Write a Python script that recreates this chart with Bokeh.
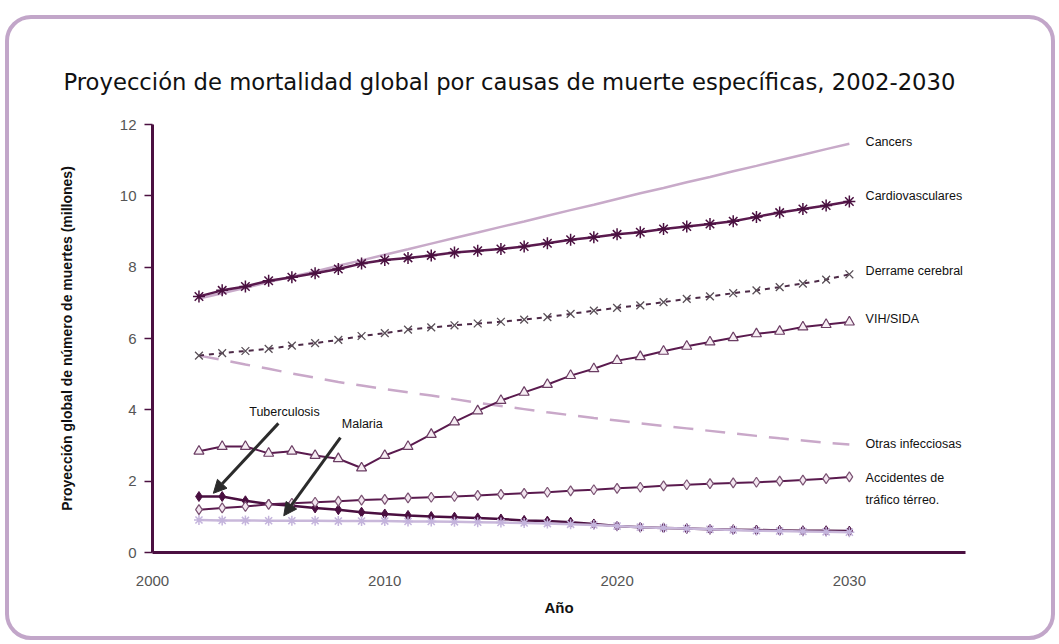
from bokeh.plotting import figure
from bokeh.models import Range1d, Arrow, NormalHead, ColumnDataSource, FixedTicker, Title
from bokeh.core.properties import value
from bokeh.embed import file_html
from bokeh.resources import INLINE

years = list(range(2002, 2031))
cancers = [7.12, 7.27, 7.42, 7.58, 7.73, 7.88, 8.04, 8.19, 8.35, 8.50, 8.66, 8.82, 8.97, 9.13, 9.28,
           9.44, 9.60, 9.75, 9.91, 10.07, 10.22, 10.38, 10.53, 10.69, 10.84, 11.00, 11.15, 11.31, 11.46]
cardio = [7.18, 7.35, 7.46, 7.62, 7.72, 7.83, 7.95, 8.10, 8.20, 8.26, 8.33, 8.41, 8.46, 8.51, 8.58,
          8.67, 8.77, 8.84, 8.92, 8.98, 9.07, 9.14, 9.21, 9.29, 9.41, 9.53, 9.63, 9.73, 9.84]
stroke = [5.52, 5.59, 5.65, 5.71, 5.80, 5.87, 5.96, 6.07, 6.15, 6.25, 6.31, 6.37, 6.42, 6.47, 6.53,
          6.60, 6.69, 6.78, 6.86, 6.93, 7.02, 7.11, 7.18, 7.27, 7.35, 7.44, 7.54, 7.65, 7.80]
hiv = [2.84, 2.97, 2.97, 2.78, 2.84, 2.72, 2.63, 2.37, 2.72, 2.97, 3.31, 3.66, 3.97, 4.26, 4.49,
       4.71, 4.96, 5.15, 5.38, 5.49, 5.64, 5.78, 5.90, 6.02, 6.13, 6.20, 6.32, 6.39, 6.46]
otras = [5.52, 5.40, 5.27, 5.15, 5.02, 4.90, 4.78, 4.68, 4.58, 4.49, 4.40, 4.30, 4.20, 4.11, 4.02,
         3.93, 3.85, 3.77, 3.70, 3.62, 3.55, 3.48, 3.41, 3.34, 3.27, 3.20, 3.14, 3.08, 3.03]
road = [1.20, 1.25, 1.29, 1.35, 1.38, 1.41, 1.44, 1.47, 1.49, 1.53, 1.55, 1.57, 1.60, 1.63, 1.66,
        1.69, 1.73, 1.76, 1.80, 1.83, 1.87, 1.90, 1.93, 1.95, 1.97, 2.00, 2.03, 2.07, 2.12]
tb = [1.57, 1.57, 1.45, 1.36, 1.31, 1.25, 1.20, 1.13, 1.08, 1.04, 1.01, 0.99, 0.97, 0.94, 0.90,
      0.88, 0.85, 0.80, 0.74, 0.71, 0.69, 0.67, 0.65, 0.64, 0.63, 0.62, 0.61, 0.61, 0.60]
malaria = [0.91, 0.90, 0.90, 0.89, 0.89, 0.89, 0.88, 0.88, 0.88, 0.87, 0.87, 0.86, 0.85, 0.84, 0.83,
           0.81, 0.79, 0.77, 0.74, 0.71, 0.69, 0.67, 0.65, 0.63, 0.61, 0.60, 0.59, 0.58, 0.57]

end_labels = ["Cancers", "Cardiovasculares", "Derrame cerebral", "VIH/SIDA",
              "Otras infecciosas", "Accidentes de", "tráfico térreo."]
y_ticks = [0, 2, 4, 6, 8, 10, 12]
x_ticks = [2000, 2010, 2020, 2030]

TITLE = "Proyección de mortalidad global por causas de muerte específicas, 2002-2030"
FONT = "Liberation Sans"
DARK = "#5a1a4e"

p = figure(width=1050, height=625, output_backend="svg", toolbar_location=None,
           x_range=Range1d(2000, 2035), y_range=Range1d(0, 12),
           min_border_left=143, min_border_right=94, min_border_top=105, min_border_bottom=92)
p.styles = {"margin-left": "5px", "margin-top": "15px",
            "border": "4px solid #c2a6c9", "border-radius": "26px"}
p.border_fill_alpha = 0
p.background_fill_alpha = 0
p.outline_line_color = None
p.grid.visible = False

p.add_layout(Title(text=TITLE, text_font="DejaVu Sans", text_font_size="22.7px",
                   text_font_style="normal", text_color="#111111", align="left",
                   vertical_align="top", offset=-89, standoff=56), "above")

xa = p.xaxis[0]
xa.ticker = FixedTicker(ticks=x_ticks)
xa.axis_line_color = "#4b1041"
xa.axis_line_width = 3
xa.major_tick_line_color = None
xa.minor_tick_line_color = None
xa.major_label_text_font = FONT
xa.major_label_text_font_size = "15px"
xa.major_label_text_color = "#555555"
xa.major_label_standoff = 17
xa.axis_label = "Año"
xa.axis_label_text_font = FONT
xa.axis_label_text_font_size = "15px"
xa.axis_label_text_font_style = "bold"
xa.axis_label_text_color = "#111111"
xa.axis_label_standoff = 10

ya = p.yaxis[0]
ya.ticker = FixedTicker(ticks=y_ticks)
ya.axis_line_color = "#4b1041"
ya.axis_line_width = 3
ya.major_tick_line_color = "#4b1041"
ya.major_tick_line_width = 1.5
ya.major_tick_out = 8
ya.major_tick_in = 0
ya.minor_tick_line_color = None
ya.major_label_text_font = FONT
ya.major_label_text_font_size = "15px"
ya.major_label_text_color = "#555555"
ya.major_label_standoff = 8
ya.axis_label = "Proyección global de número de muertes (millones)"
ya.axis_label_text_font = FONT
ya.axis_label_text_font_size = "14px"
ya.axis_label_text_font_style = "bold"
ya.axis_label_text_color = "#111111"
ya.axis_label_standoff = 42

# series
p.line(years, cancers, line_color="#c8aac9", line_width=2.5)
p.line(years, otras, line_color="#c9a8c9", line_width=2.5, line_dash="20 12")
p.line(years, tb, line_color="#4a0f40", line_width=2.5)
p.scatter(years, tb, marker="diamond", size=10, fill_color="#4a0f40", line_color="#4a0f40")
p.line(years, malaria, line_color="#c9b8da", line_width=2.5)
p.scatter(years, malaria, marker="asterisk", size=10, line_color="#c4b4dc", line_width=1.5)
p.line(years, road, line_color=DARK, line_width=2)
p.scatter(years, road, marker="diamond", size=10, fill_color="#f3e6f0", line_color="#7a5272", line_width=1.2)
p.line(years, hiv, line_color=DARK, line_width=2)
p.scatter(years, hiv, marker="triangle", size=10, fill_color="#f7eef4", line_color="#6b3d63", line_width=1.2)
p.line(years, stroke, line_color="#4d2a47", line_width=2, line_dash="5 5")
p.scatter(years, stroke, marker="x", size=11, line_color="#5a5058", line_width=1.3)
p.line(years, cardio, line_color=DARK, line_width=2.5)
p.scatter(years, cardio, marker="asterisk", size=12, line_color="#4a1040", line_width=1.5)

# end labels
lx = years[-1] + 0.7
ends = [cancers[-1], cardio[-1], stroke[-1], hiv[-1], otras[-1], road[-1], road[-1]]
offs = [-2, -6, -3, -3, 0, 1, 23]
src = ColumnDataSource(dict(x=[lx] * len(end_labels), y=ends, t=end_labels, off=offs))
p.text(x="x", y="y", text="t", y_offset="off", source=src, text_font=value(FONT),
       text_font_size="12.5px", text_color="#111111", text_baseline="middle", text_align="left")

# arrow annotations
p.text(x=[2005.68, 2009.03], y=[3.95, 3.59], text=["Tuberculosis", "Malaria"],
       text_font=value(FONT), text_font_size="12.5px", text_color="#111111",
       text_baseline="middle", text_align="center")
for xs, ys, xe, ye in [(2005.42, 3.62, 2002.62, 1.66), (2008.09, 3.22, 2005.65, 1.03)]:
    p.add_layout(Arrow(end=NormalHead(size=13, fill_color="#2b2b2b", line_color="#2b2b2b"),
                       x_start=xs, y_start=ys, x_end=xe, y_end=ye,
                       line_color="#2b2b2b", line_width=3))

open("out.html", "w").write(file_html(p, INLINE))
